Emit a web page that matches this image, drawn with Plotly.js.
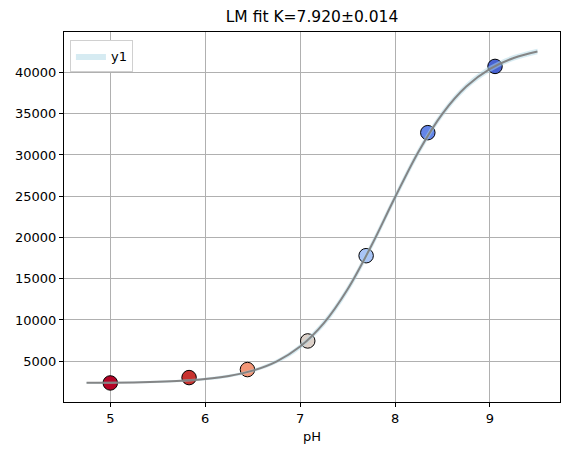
<!DOCTYPE html>
<html>
<head>
<meta charset="utf-8">
<script src="https://cdn.plot.ly/plotly-3.0.1.min.js"></script>
<style>
  body { margin: 0; background: #fff; }
  #chart { width: 569px; height: 455px; }
</style>
</head>
<body>
<div id="chart"></div>
<script>
// measured points
var ph = [5.00, 5.83, 6.445, 7.08, 7.695, 8.345, 9.053];
var signal = [2370, 3020, 3990, 7460, 17790, 32700, 40730];
var pointColors = ['#b40426', '#c8322f', '#f39677', '#ddd1c9', '#a9c5f7', '#6485e8', '#4862d2'];

// fitted curve and its band
var fitPh = [4.75, 5.00, 5.25, 5.50, 5.75, 6.00, 6.25, 6.50, 6.75, 7.00,
             7.25, 7.50, 7.75, 8.00, 8.25, 8.50, 8.75, 9.00, 9.25, 9.50];
var fitY = [2378, 2400, 2438, 2506, 2627, 2840, 3213, 3861, 4962, 6776,
            9614, 13714, 18990, 24868, 30458, 35012, 38287, 40432, 41756, 42544];
var bandLo = [2258, 2280, 2318, 2376, 2487, 2690, 3043, 3661, 4712, 6456,
              9214, 13244, 18490, 24368, 29978, 34572, 37887, 40062, 41406, 42204];
var bandHi = [2498, 2520, 2558, 2636, 2767, 2990, 3383, 4061, 5212, 7096,
              10014, 14184, 19490, 25368, 30938, 35452, 38687, 40802, 42106, 42884];

var yTicks = [5000, 10000, 15000, 20000, 25000, 30000, 35000, 40000];
var xTicks = [5, 6, 7, 8, 9];

var font = 'DejaVu Sans, sans-serif';

var data = [
  {
    x: ph,
    y: signal,
    mode: 'markers',
    type: 'scatter',
    showlegend: false,
    hoverinfo: 'x+y',
    marker: {
      size: 14.5,
      color: pointColors,
      line: {color: '#000000', width: 1}
    }
  },
  {
    x: fitPh,
    y: bandLo,
    mode: 'lines',
    type: 'scatter',
    line: {width: 0, shape: 'spline'},
    showlegend: false,
    hoverinfo: 'skip'
  },
  {
    x: fitPh,
    y: bandHi,
    mode: 'lines',
    type: 'scatter',
    name: 'y1',
    fill: 'tonexty',
    fillcolor: 'rgba(173,216,230,0.5)',
    line: {width: 0, shape: 'spline'},
    hoverinfo: 'skip'
  },
  {
    x: fitPh,
    y: fitY,
    mode: 'lines',
    type: 'scatter',
    showlegend: false,
    line: {color: 'rgba(128,128,128,0.95)', width: 2, shape: 'spline'}
  }
];

var layout = {
  width: 569,
  height: 455,
  paper_bgcolor: '#ffffff',
  plot_bgcolor: '#ffffff',
  font: {family: font, size: 13, color: '#000000'},
  margin: {l: 64, r: 9, t: 32, b: 53, pad: 0},
  title: {
    text: 'LM fit K=7.920±0.014',
    font: {family: font, size: 15.5, color: '#000000'},
    xref: 'paper',
    x: 0.5,
    xanchor: 'center',
    yref: 'container',
    y: 0.963,
    yanchor: 'middle'
  },
  xaxis: {
    range: [4.5125, 9.7375],
    tickvals: xTicks,
    ticks: 'outside',
    ticklen: 4,
    tickcolor: '#000000',
    showgrid: true,
    gridcolor: '#b0b0b0',
    gridwidth: 1,
    zeroline: false,
    showline: true,
    linecolor: '#000000',
    linewidth: 1,
    mirror: true,
    title: {text: 'pH', font: {family: font, size: 13}, standoff: 7}
  },
  yaxis: {
    range: [60, 44900],
    tickvals: yTicks,
    tickformat: 'd',
    ticks: 'outside',
    ticklen: 4,
    tickcolor: '#000000',
    showgrid: true,
    gridcolor: '#b0b0b0',
    gridwidth: 1,
    zeroline: false,
    showline: true,
    linecolor: '#000000',
    linewidth: 1,
    mirror: true
  },
  legend: {
    x: 0.012,
    y: 0.978,
    xanchor: 'left',
    yanchor: 'top',
    bgcolor: '#ffffff',
    bordercolor: '#d0d0d0',
    borderwidth: 1,
    font: {family: font, size: 13}
  }
};

Plotly.newPlot('chart', data, layout, {displayModeBar: false});
</script>
</body>
</html>
